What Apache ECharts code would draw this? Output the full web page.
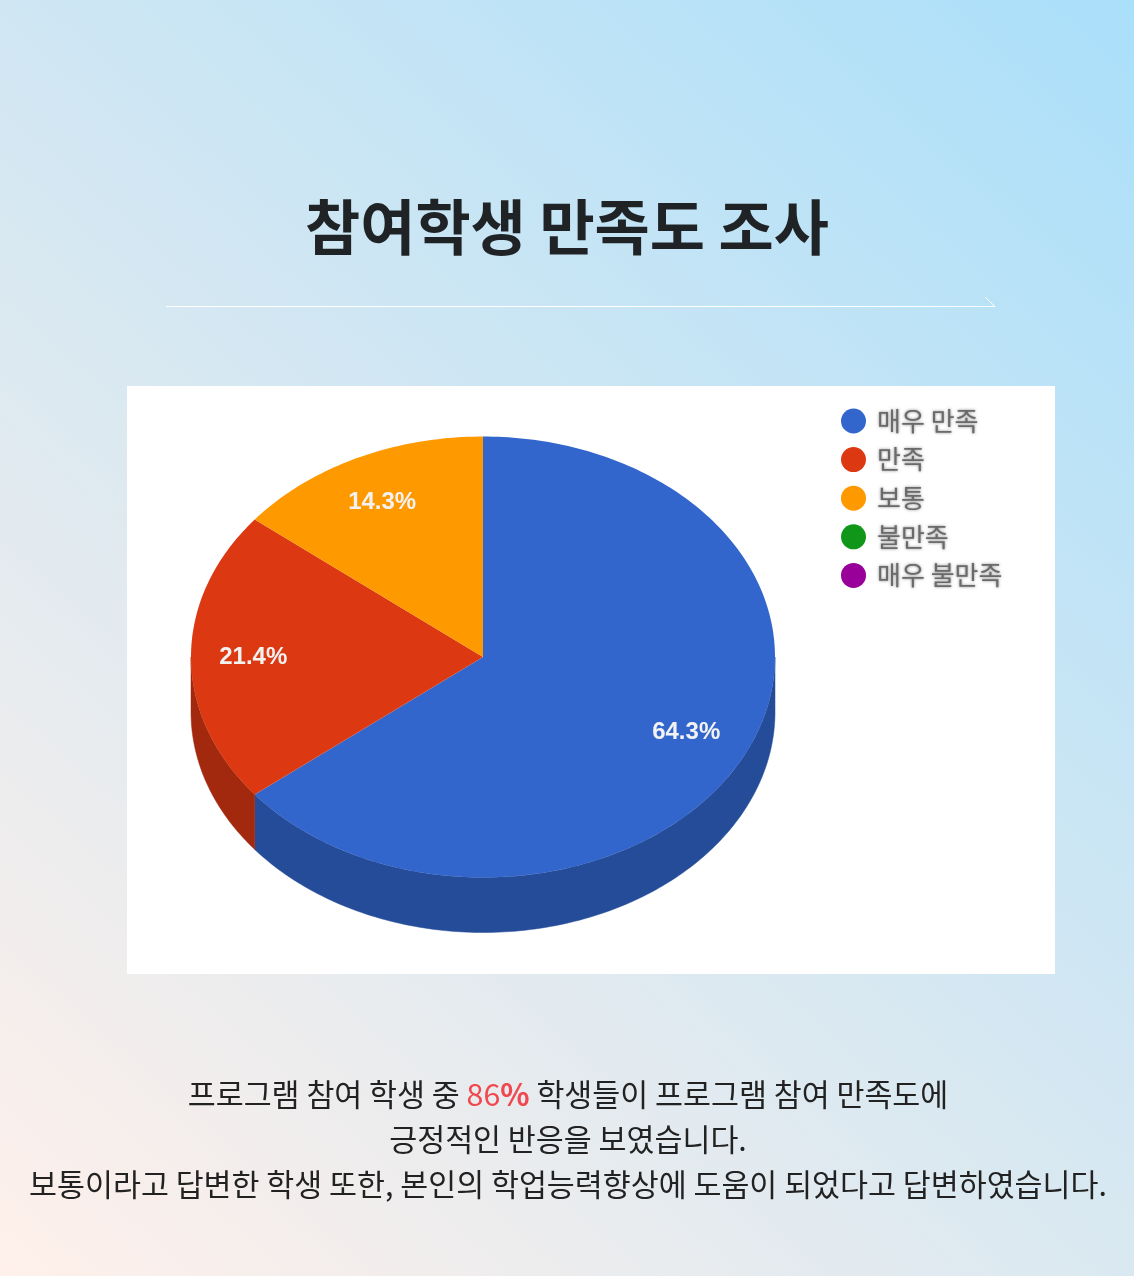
<!DOCTYPE html>
<html><head><meta charset="utf-8">
<style>html,body{margin:0;padding:0;width:1134px;height:1276px;overflow:hidden}#c{width:1134px;height:1276px}</style>
<script src="https://cdn.jsdelivr.net/npm/echarts@6/dist/echarts.min.js"></script>
</head><body><div id="c"></div>
<script>
const categories = ['매우 만족','만족','보통','불만족','매우 불만족'];
const values = [9,3,2,0,0];
const topColors = ['#3366cc','#dc3912','#ff9900','#109618','#990099'];
const sideColors = ['#254c99','#a3290e','#bf7300','#0c7012','#730073'];
const titleText = '참여학생 만족도 조사';
const bodyLines = ['프로그램 참여 학생 중 {r|86}{b|%} 학생들이 프로그램 참여 만족도에','긍정적인 반응을 보였습니다.','보통이라고 답변한 학생 또한, 본인의 학업능력향상에 도움이 되었다고 답변하였습니다.'];

const FONT = '"Noto Sans CJK KR","Noto Sans",sans-serif';
const CX=483, CY=657, RX=292, RY=220.5, DEPTH=55, LABEL_R=0.78;
const total = values.reduce((a,b)=>a+b,0);
const pt=(deg,dy)=>{const t=deg*Math.PI/180;return [CX+RX*Math.sin(t),CY-RY*Math.cos(t)+(dy||0)];};
function arc(a,b,dy){const n=Math.max(2,Math.ceil(Math.abs(b-a)));const o=[];for(let i=0;i<=n;i++)o.push(pt(a+(b-a)*i/n,dy));return o;}

function seriesFor(idx){
  return {
    type:'custom', name:categories[idx], coordinateSystem:'none', z:3,
    itemStyle:{color:topColors[idx]},
    data:[[values[idx]]], silent:true,
    renderItem(){
      if(!values[idx]) return {type:'group',children:[]};
      const start=values.slice(0,idx).reduce((a,b)=>a+b,0)/total*360;
      const end=start+values[idx]/total*360;
      const children=[];
      const sa=Math.max(start,90), sb=Math.min(end,270);
      if(sb>sa){
        children.push({type:'polygon',shape:{points:arc(sa,sb,0).concat(arc(sb,sa,DEPTH))},style:{fill:sideColors[idx],stroke:sideColors[idx],lineWidth:0.5}});
      }
      children.push({type:'polygon',shape:{points:[[CX,CY]].concat(arc(start,end,0))},style:{fill:topColors[idx]}});
      const mid=(start+end)/2*Math.PI/180;
      children.push({type:'text',z2:10,style:{
        x:CX-2+RX*LABEL_R*Math.sin(mid),y:CY+0.5-RY*LABEL_R*Math.cos(mid),
        text:(values[idx]/total*100).toFixed(1)+'%',
        fill:'#f2f2f2',font:'bold 24px "Liberation Sans",Arial,sans-serif',
        textAlign:'center',textVerticalAlign:'middle',shadowBlur:2,shadowColor:'rgba(255,255,255,.35)'
      }});
      return {type:'group',children};
    }
  };
}

const chart=echarts.init(document.getElementById('c'));
chart.setOption({
  animation:false,
  backgroundColor:{type:'linear',x:0,y:1,x2:1,y2:0,colorStops:[{offset:0,color:'#fff0ea'},{offset:1,color:'#aadffa'}]},
  legend:{
    orient:'vertical',left:836,top:403,icon:'circle',itemWidth:25,itemHeight:25,itemGap:12.6,
    selectedMode:false,
    textStyle:{fontFamily:FONT,fontSize:26,color:'#6a6a6a',padding:[0,0,0,6],textShadowColor:'rgba(80,80,80,.7)',textShadowBlur:3},
    data:categories
  },
  series:categories.map((_,i)=>seriesFor(i)),
  graphic:[
    {type:'rect',z:0,shape:{x:127,y:386,width:928,height:588},style:{fill:'#fff'}},
    {type:'text',z:1,style:{x:567,y:227,text:titleText,textAlign:'center',textVerticalAlign:'middle',fill:'#1f2326',font:'bold 60px '+FONT}},
    {type:'polyline',z:1,shape:{points:[[166,306.5],[995,306.5],[985,297]]},style:{stroke:'#fff',lineWidth:1,fill:null}},
    ...bodyLines.map((t,i)=>({type:'text',z:1,style:{
      x:568,y:1094.5+i*45,text:t,textAlign:'center',textVerticalAlign:'middle',
      fill:'#222',font:'400 30.4px '+FONT,
      rich:{r:{fill:'#f1474f',font:'400 30.4px '+FONT},b:{fill:'#f1474f',font:'bold 30.4px '+FONT}}
    }}))
  ]
});
</script></body></html>
